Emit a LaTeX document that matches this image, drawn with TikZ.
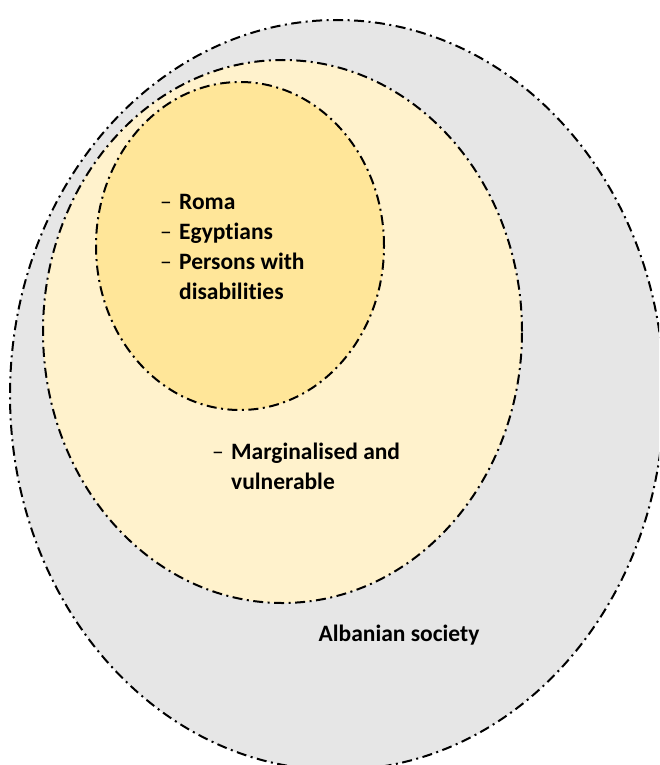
\documentclass[tikz,border=0pt]{standalone}
\usepackage{fontspec}
\setmainfont{Carlito}[Ligatures={NoCommon,NoContextual}]
\usetikzlibrary{shapes.geometric}
\definecolor{societygray}{HTML}{E6E6E6}
\definecolor{marginyellow}{HTML}{FFF2CC}
\definecolor{coreyellow}{HTML}{FFE699}
\tikzset{
    ring/.style={ellipse, draw=black, line width=2pt,
        dash pattern=on 10pt off 4.5pt on 2pt off 4.5pt, inner sep=0pt},
    grouptext/.style={inner sep=0pt, font=\fontsize{23.5}{30}\selectfont\bfseries},
}
\newcommand{\bul}{\makebox[19pt][l]{\mdseries –}}

\begin{document}
\begin{tikzpicture}[x=1pt,y=-1pt]
    \useasboundingbox (0,0) rectangle (659,765);
    \clip (0,0) rectangle (659,765);
    % nested groups
    \node[ring, fill=societygray, minimum width=654pt, minimum height=750pt] (society) at (337,395) {};
    \node[ring, fill=marginyellow, minimum width=479pt, minimum height=543pt] (marginal) at (282.5,331.5) {};
    \node[ring, fill=coreyellow, minimum width=288pt, minimum height=328pt] (core) at (240,246) {};
    % labels
    \node[grouptext, anchor=base west] (coretext) at (160,209)
        {\begin{tabular}[t]{@{}l@{}}
            \bul Roma\\
            \bul Egyptians\\
            \bul Persons with\\
            \hspace*{19pt}disabilities
        \end{tabular}};
    \node[grouptext, anchor=base west] (margtext) at (212,459)
        {\begin{tabular}[t]{@{}l@{}}
            \bul Marginalised and\\
            \hspace*{19pt}vulnerable
        \end{tabular}};
    \node[grouptext, anchor=base] (societytext) at (399,641) {Albanian society};
\end{tikzpicture}
\end{document}
